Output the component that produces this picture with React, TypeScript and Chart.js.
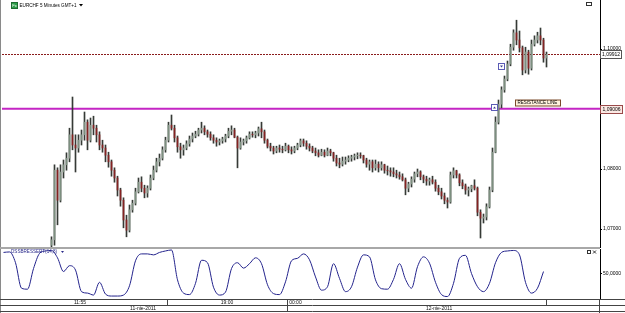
import { useEffect, useRef } from 'react';
import { Chart, registerables } from 'chart.js';

Chart.register(...registerables);

// ---------- data ----------
const symbolTitle = 'EURCHF 5 Minutes GMT+1';
const oscTitle = 'DSSBRESSERT(14,8)';

const firstOpen = 1.0673;
const highs = [
  1.0687, 1.0807, 1.0802, 1.0807, 1.0815, 1.0827, 1.0868, 1.0920, 1.0857, 1.0857,
  1.0865, 1.0895, 1.0882, 1.0885, 1.0888, 1.0873, 1.0862, 1.0848, 1.0840, 1.0828,
  1.0815, 1.0802, 1.0788, 1.0768, 1.0752, 1.0723, 1.0740, 1.0748, 1.0768, 1.0785,
  1.0787, 1.0773, 1.0772, 1.0790, 1.0805, 1.0818, 1.0825, 1.0837, 1.0853, 1.0878,
  1.0890, 1.0873, 1.0855, 1.0843, 1.0840, 1.0847, 1.0855, 1.0860, 1.0863, 1.0868,
  1.0878, 1.0872, 1.0865, 1.0862, 1.0857, 1.0852, 1.0850, 1.0853, 1.0858, 1.0868,
  1.0872, 1.0868, 1.0855, 1.0852, 1.0850, 1.0855, 1.0862, 1.0862, 1.0863, 1.0870,
  1.0878, 1.0865, 1.0850, 1.0843, 1.0838, 1.0838, 1.0840, 1.0838, 1.0843, 1.0840,
  1.0837, 1.0838, 1.0843, 1.0850, 1.0850, 1.0847, 1.0842, 1.0838, 1.0835, 1.0832,
  1.0833, 1.0832, 1.0835, 1.0833, 1.0828, 1.0823, 1.0818, 1.0820, 1.0820, 1.0822,
  1.0823, 1.0825, 1.0827, 1.0827, 1.0823, 1.0818, 1.0815, 1.0815, 1.0815, 1.0812,
  1.0812, 1.0808, 1.0805, 1.0802, 1.0802, 1.0798, 1.0795, 1.0792, 1.0785, 1.0778,
  1.0787, 1.0795, 1.0800, 1.0797, 1.0790, 1.0788, 1.0785, 1.0788, 1.0782, 1.0773,
  1.0768, 1.0760, 1.0752, 1.0795, 1.0802, 1.0798, 1.0792, 1.0782, 1.0775, 1.0770,
  1.0773, 1.0782, 1.0770, 1.0732, 1.0725, 1.0742, 1.0770, 1.0835, 1.0887, 1.0915,
  1.0937, 1.0955, 1.0980, 1.1008, 1.1032, 1.1048, 1.1030, 1.1005, 1.1003, 1.0998,
  1.1015, 1.1022, 1.1028, 1.1035, 1.1018, 1.0995,
];
const lows = [
  1.0670, 1.0673, 1.0707, 1.0745, 1.0785, 1.0798, 1.0812, 1.0832, 1.0795, 1.0828,
  1.0840, 1.0848, 1.0832, 1.0845, 1.0857, 1.0845, 1.0832, 1.0828, 1.0812, 1.0803,
  1.0788, 1.0778, 1.0755, 1.0738, 1.0702, 1.0687, 1.0695, 1.0728, 1.0740, 1.0760,
  1.0762, 1.0752, 1.0753, 1.0765, 1.0782, 1.0795, 1.0805, 1.0815, 1.0828, 1.0845,
  1.0865, 1.0845, 1.0828, 1.0818, 1.0823, 1.0832, 1.0838, 1.0845, 1.0852, 1.0855,
  1.0860, 1.0857, 1.0853, 1.0848, 1.0843, 1.0838, 1.0840, 1.0843, 1.0845, 1.0852,
  1.0857, 1.0852, 1.0802, 1.0833, 1.0840, 1.0843, 1.0850, 1.0853, 1.0852, 1.0855,
  1.0852, 1.0843, 1.0835, 1.0830, 1.0825, 1.0827, 1.0828, 1.0827, 1.0830, 1.0827,
  1.0825, 1.0827, 1.0832, 1.0837, 1.0838, 1.0833, 1.0830, 1.0827, 1.0822, 1.0820,
  1.0822, 1.0820, 1.0822, 1.0822, 1.0813, 1.0805, 1.0802, 1.0805, 1.0808, 1.0812,
  1.0813, 1.0815, 1.0817, 1.0818, 1.0810, 1.0803, 1.0798, 1.0795, 1.0798, 1.0795,
  1.0798, 1.0793, 1.0790, 1.0788, 1.0787, 1.0785, 1.0783, 1.0780, 1.0757, 1.0762,
  1.0770, 1.0778, 1.0787, 1.0782, 1.0777, 1.0773, 1.0773, 1.0775, 1.0763, 1.0757,
  1.0750, 1.0742, 1.0735, 1.0743, 1.0785, 1.0785, 1.0772, 1.0767, 1.0758, 1.0755,
  1.0762, 1.0765, 1.0722, 1.0685, 1.0710, 1.0715, 1.0735, 1.0762, 1.0827, 1.0875,
  1.0902, 1.0928, 1.0947, 1.0972, 1.0998, 1.1007, 1.0995, 1.0957, 1.0960, 1.0958,
  1.0965, 1.1005, 1.1010, 1.1007, 1.0978, 1.0970,
];
const closes = [
  1.0682, 1.0798, 1.0748, 1.0795, 1.0807, 1.0818, 1.0857, 1.0840, 1.0835, 1.0848,
  1.0857, 1.0878, 1.0848, 1.0873, 1.0868, 1.0857, 1.0840, 1.0835, 1.0823, 1.0812,
  1.0798, 1.0785, 1.0765, 1.0748, 1.0715, 1.0698, 1.0732, 1.0743, 1.0762, 1.0778,
  1.0768, 1.0760, 1.0768, 1.0785, 1.0798, 1.0812, 1.0818, 1.0832, 1.0848, 1.0873,
  1.0868, 1.0852, 1.0837, 1.0832, 1.0835, 1.0842, 1.0850, 1.0855, 1.0858, 1.0865,
  1.0868, 1.0862, 1.0858, 1.0852, 1.0848, 1.0845, 1.0847, 1.0850, 1.0855, 1.0863,
  1.0865, 1.0853, 1.0835, 1.0845, 1.0847, 1.0852, 1.0858, 1.0857, 1.0860, 1.0867,
  1.0862, 1.0848, 1.0838, 1.0835, 1.0830, 1.0835, 1.0833, 1.0832, 1.0838, 1.0832,
  1.0830, 1.0835, 1.0840, 1.0847, 1.0843, 1.0838, 1.0835, 1.0830, 1.0827, 1.0823,
  1.0828, 1.0823, 1.0830, 1.0827, 1.0818, 1.0810, 1.0808, 1.0813, 1.0815, 1.0818,
  1.0820, 1.0822, 1.0823, 1.0822, 1.0815, 1.0808, 1.0812, 1.0802, 1.0808, 1.0802,
  1.0807, 1.0798, 1.0797, 1.0795, 1.0792, 1.0790, 1.0787, 1.0782, 1.0768, 1.0775,
  1.0783, 1.0792, 1.0795, 1.0787, 1.0783, 1.0780, 1.0782, 1.0778, 1.0768, 1.0762,
  1.0755, 1.0748, 1.0745, 1.0790, 1.0797, 1.0790, 1.0777, 1.0772, 1.0765, 1.0767,
  1.0772, 1.0768, 1.0728, 1.0718, 1.0720, 1.0737, 1.0765, 1.0828, 1.0878, 1.0908,
  1.0932, 1.0950, 1.0975, 1.1003, 1.1027, 1.1015, 1.1002, 1.0965, 1.0995, 1.0968,
  1.1008, 1.1015, 1.1022, 1.1015, 1.0985, 1.0991,
];

const bidPrice = 1.09912;
const resistancePrice = 1.09006;
const resistanceText = 'RESISTANCE LINE';
const resistanceLabelBar = 154.5;
const priceTicks = [1.07, 1.08, 1.09, 1.1];
const PRICE_MIN = 1.067;
const PRICE_MAX = 1.10817;

const tradeMarkerBars = [147.5, 149.8];
const tradeMarkerPrices = [1.0903, 1.0972];

// oscillator sampled every 2 bars, starting at bar -16
const OSC_START = -16;
const OSC_STEP = 2;
const oscValues = [
  93, 94, 72, 20, 18, 60, 91, 96, 97, 82,
  54, 66, 57, 13, 10, 6, 32, 8, 4, 4,
  6, 25, 76, 90, 90, 88, 93, 96, 98, 37,
  10, 7, 30, 77, 72, 22, 6, 12, 60, 72,
  61, 70, 82, 70, 27, 9, 7, 33, 76, 81,
  90, 78, 43, 16, 23, 70, 40, 13, 23, 63,
  88, 84, 37, 19, 18, 38, 70, 38, 20, 64,
  84, 71, 32, 7, 3, 30, 81, 87, 50, 23,
  13, 30, 72, 93, 96, 97, 88, 32, 10, 20,
  54,
];
const oscTicks = [50];

const timeLabels = ['11:55', '19:00', '00:00'];
const timeLabelBars = [9.5, 58.5, 81.3];
const dateLabels = ['11-nie-2011', '12-nie-2011'];
const dateLabelBars = [30.5, 129.2];
const timeSeparatorBars = [38.5, 78.5, 164.8];
const dateSeparatorBars = [78.5];

// ---------- style ----------
const X_MIN = -16.5;
const X_MAX = -16.5 + 598 / 3;
const FONT = "'Liberation Sans', Arial, sans-serif";
const WICK = '#363a36';
const BULL = '#7c8f7f';
const BEAR = '#852222';
const OSC_COLOR = '#23238c';

const fmt = (v: number, d: number) => v.toFixed(d).replace('.', ',');

function smallText(ctx: any, text: string, x: number, y: number, color: string, align = 'left', size = 5) {
  ctx.font = `${size}px ${FONT}`;
  ctx.fillStyle = color;
  ctx.textAlign = align;
  ctx.textBaseline = 'middle';
  ctx.fillText(text, x, y);
}

export default function App() {
  const mainRef = useRef<HTMLCanvasElement>(null);
  const oscRef = useRef<HTMLCanvasElement>(null);

  useEffect(() => {
    const opens = closes.map((_, k) => (k === 0 ? firstOpen : closes[k - 1]));
    const bodyColors = closes.map((c, k) => (c >= opens[k] ? BULL : BEAR));

    const mainOverlay = {
      id: 'mainOverlay',
      beforeDatasetsDraw(chart: any) {
        const { ctx, chartArea: a, scales } = chart;
        const ys = scales.y;
        ctx.save();
        const yb = Math.round(ys.getPixelForValue(bidPrice)) + 0.5;
        ctx.strokeStyle = '#8b1c1c';
        ctx.lineWidth = 1;
        ctx.setLineDash([2, 1]);
        ctx.beginPath();
        ctx.moveTo(a.left, yb);
        ctx.lineTo(a.right, yb);
        ctx.stroke();
        ctx.setLineDash([]);
        const yr = ys.getPixelForValue(resistancePrice);
        ctx.strokeStyle = '#c425c4';
        ctx.lineWidth = 2;
        ctx.beginPath();
        ctx.moveTo(a.left, yr);
        ctx.lineTo(a.right, yr);
        ctx.stroke();
        ctx.restore();
      },
      afterDraw(chart: any) {
        const { ctx, chartArea: a, scales, height } = chart;
        const ys = scales.y;
        const xs = scales.x;
        ctx.save();
        // window border + panel separator
        ctx.fillStyle = '#8a8a8a';
        ctx.fillRect(0, 0, 1, height);
        ctx.fillStyle = '#a8a8a8';
        ctx.fillRect(0, height - 1, a.right, 1);

        // title
        ctx.fillStyle = '#2e9e4a';
        ctx.fillRect(11, 2, 7, 7);
        ctx.strokeStyle = '#1d6b30';
        ctx.lineWidth = 1;
        ctx.strokeRect(11.5, 2.5, 6, 6);
        smallText(ctx, 'Fx', 14.5, 5.5, '#ffffff', 'center', 4);
        smallText(ctx, symbolTitle, 19.5, 5.5, '#000000', 'left', 4.6);
        ctx.fillStyle = '#000';
        ctx.beginPath();
        ctx.moveTo(79, 4);
        ctx.lineTo(83, 4);
        ctx.lineTo(81, 6.5);
        ctx.closePath();
        ctx.fill();
        // top-right window icon
        ctx.strokeStyle = '#333';
        ctx.strokeRect(586.5, 2.5, 5, 3);

        // bid label box
        const yb = Math.round(ys.getPixelForValue(bidPrice)) + 0.5;
        ctx.fillStyle = '#ffffff';
        ctx.fillRect(a.right + 1, yb - 3.5, 21, 7);
        ctx.strokeStyle = '#555';
        ctx.strokeRect(a.right + 0.5, yb - 4, 21, 8);
        smallText(ctx, fmt(bidPrice, 5), a.right + 2, yb, '#000');

        // resistance label box on axis
        const yr = Math.round(ys.getPixelForValue(resistancePrice)) + 0.5;
        ctx.fillStyle = '#fbe9e4';
        ctx.fillRect(a.right + 1, yr - 3.5, 22, 7);
        ctx.strokeStyle = '#9a4a4a';
        ctx.strokeRect(a.right + 0.5, yr - 4, 22, 8);
        smallText(ctx, fmt(resistancePrice, 5), a.right + 2.5, yr, '#000');

        // resistance text label
        const lx = Math.round(xs.getPixelForValue(resistanceLabelBar)) + 0.5;
        ctx.fillStyle = '#fff2de';
        ctx.fillRect(lx, yr - 9.5, 45, 6);
        ctx.strokeStyle = '#7a4a2a';
        ctx.strokeRect(lx, yr - 9.5, 45, 6);
        smallText(ctx, resistanceText, lx + 2, yr - 6.3, '#000', 'left', 4.5);

        // trade markers
        tradeMarkerBars.forEach((b, i) => {
          const cx = Math.round(xs.getPixelForValue(b));
          const cy = Math.round(ys.getPixelForValue(tradeMarkerPrices[i]));
          ctx.fillStyle = '#ffffff';
          ctx.fillRect(cx - 3, cy - 3, 6, 6);
          ctx.strokeStyle = '#5b5bb5';
          ctx.strokeRect(cx - 2.5, cy - 2.5, 6, 6);
          ctx.fillStyle = '#3b3b8f';
          ctx.beginPath();
          if (i === 0) {
            ctx.moveTo(cx - 1, cy + 1.5);
            ctx.lineTo(cx + 2, cy + 1.5);
            ctx.lineTo(cx + 0.5, cy - 0.5);
          } else {
            ctx.moveTo(cx - 1, cy - 0.5);
            ctx.lineTo(cx + 2, cy - 0.5);
            ctx.lineTo(cx + 0.5, cy + 1.5);
          }
          ctx.closePath();
          ctx.fill();
        });
        ctx.restore();
      },
    };

    const main = new Chart(mainRef.current as HTMLCanvasElement, {
      type: 'bar',
      data: {
        datasets: [
          {
            label: 'body',
            data: closes.map((c, k) => ({ x: k, y: [opens[k], c] })) as any,
            backgroundColor: bodyColors,
            barThickness: 1,
            grouped: false,
            borderWidth: 0,
          },
          {
            label: 'wick',
            data: highs.map((h, k) => ({ x: k, y: [lows[k], h] })) as any,
            backgroundColor: WICK,
            barThickness: 1,
            grouped: false,
            borderWidth: 0,
          },
        ],
      },
      options: {
        responsive: false,
        animation: false,
        devicePixelRatio: 1,
        layout: { padding: { left: 2, right: 0, top: 0, bottom: 1 } },
        plugins: {
          legend: { display: false },
          tooltip: { enabled: false },
          title: { display: false },
        },
        scales: {
          x: { type: 'linear', display: false, min: X_MIN, max: X_MAX, offset: false, grid: { offset: false } },
          y: {
            type: 'linear',
            position: 'right',
            min: PRICE_MIN,
            max: PRICE_MAX,
            beginAtZero: false,
            afterBuildTicks: (s: any) => {
              s.ticks = priceTicks.map((v) => ({ value: v }));
            },
            afterFit: (s: any) => {
              s.width = 25;
              s.paddingTop = 0;
              s.paddingBottom = 0;
            },
            ticks: {
              callback: (v: any) => fmt(Number(v), 5),
              font: { size: 5, family: FONT },
              color: '#000',
              padding: 1,
              autoSkip: false,
            },
            grid: { drawOnChartArea: false, drawTicks: true, tickLength: 2, color: '#000', lineWidth: 1 },
            border: { display: true, color: '#000', dash: [1, 1], width: 1 },
          },
        },
      } as any,
      plugins: [mainOverlay],
    });

    const oscOverlay = {
      id: 'oscOverlay',
      afterDraw(chart: any) {
        const { ctx, chartArea: a, scales, height, width } = chart;
        const xs = scales.x;
        ctx.save();
        ctx.fillStyle = '#8a8a8a';
        ctx.fillRect(0, 0, 1, height);
        ctx.fillStyle = '#a8a8a8';
        ctx.fillRect(0, 0, a.right, 1);

        smallText(ctx, oscTitle, 11, 4, '#2a2a8a', 'left', 4.6);
        ctx.fillStyle = '#2a2a8a';
        ctx.beginPath();
        ctx.moveTo(61, 3);
        ctx.lineTo(64, 3);
        ctx.lineTo(62.5, 5);
        ctx.closePath();
        ctx.fill();
        // panel icons
        ctx.strokeStyle = '#333';
        ctx.lineWidth = 1;
        ctx.strokeRect(587.5, 2.5, 3, 3);
        ctx.beginPath();
        ctx.moveTo(593, 2.5);
        ctx.lineTo(596, 5.5);
        ctx.moveTo(596, 2.5);
        ctx.lineTo(593, 5.5);
        ctx.stroke();

        // bottom rows
        const r1 = a.bottom + 1.5;
        const r2 = r1 + 6;
        const r3 = r2 + 6;
        ctx.strokeStyle = '#444';
        ctx.beginPath();
        [r1, r2, r3].forEach((y) => {
          ctx.moveTo(0, y);
          ctx.lineTo(width, y);
        });
        timeSeparatorBars.forEach((b) => {
          const x = Math.round(xs.getPixelForValue(b)) + 0.5;
          ctx.moveTo(x, r1);
          ctx.lineTo(x, r2);
        });
        dateSeparatorBars.forEach((b) => {
          const x = Math.round(xs.getPixelForValue(b)) + 0.5;
          ctx.moveTo(x, r1);
          ctx.lineTo(x, r3);
        });
        ctx.moveTo(a.right - 0.5, r1);
        ctx.lineTo(a.right - 0.5, height);
        ctx.stroke();

        timeLabels.forEach((t, i) => {
          smallText(ctx, t, xs.getPixelForValue(timeLabelBars[i]), r1 + 3, '#111', 'center');
        });
        dateLabels.forEach((t, i) => {
          smallText(ctx, t, xs.getPixelForValue(dateLabelBars[i]), r2 + 3, '#111', 'center');
        });
        ctx.restore();
      },
    };

    const osc = new Chart(oscRef.current as HTMLCanvasElement, {
      type: 'line',
      data: {
        datasets: [
          {
            label: oscTitle,
            data: oscValues.map((v, j) => ({ x: OSC_START + OSC_STEP * j, y: v })) as any,
            borderColor: OSC_COLOR,
            borderWidth: 1,
            pointRadius: 0,
            cubicInterpolationMode: 'monotone',
            fill: false,
          },
        ],
      },
      options: {
        responsive: false,
        animation: false,
        devicePixelRatio: 1,
        layout: { padding: { left: 2, right: 0, top: 1, bottom: 15 } },
        plugins: { legend: { display: false }, tooltip: { enabled: false } },
        scales: {
          x: { type: 'linear', display: false, min: X_MIN, max: X_MAX },
          y: {
            type: 'linear',
            position: 'right',
            min: 0,
            max: 100,
            afterBuildTicks: (s: any) => {
              s.ticks = oscTicks.map((v) => ({ value: v }));
            },
            afterFit: (s: any) => {
              s.width = 25;
              s.paddingTop = 0;
              s.paddingBottom = 0;
            },
            ticks: {
              callback: (v: any) => fmt(Number(v), 4),
              font: { size: 5, family: FONT },
              color: '#000',
              padding: 1,
              autoSkip: false,
            },
            grid: { drawOnChartArea: false, drawTicks: true, tickLength: 2, color: '#000', lineWidth: 1 },
            border: { display: true, color: '#000', dash: [1, 1], width: 1 },
          },
        },
      } as any,
      plugins: [oscOverlay],
    });

    return () => {
      main.destroy();
      osc.destroy();
    };
  }, []);

  return (
    <div style={{ position: 'fixed', left: 0, top: 0, width: 625, height: 313, background: '#ffffff' }}>
      <canvas ref={mainRef} width={625} height={248} style={{ position: 'absolute', left: 0, top: 0 }} />
      <canvas ref={oscRef} width={625} height={65} style={{ position: 'absolute', left: 0, top: 248 }} />
    </div>
  );
}
